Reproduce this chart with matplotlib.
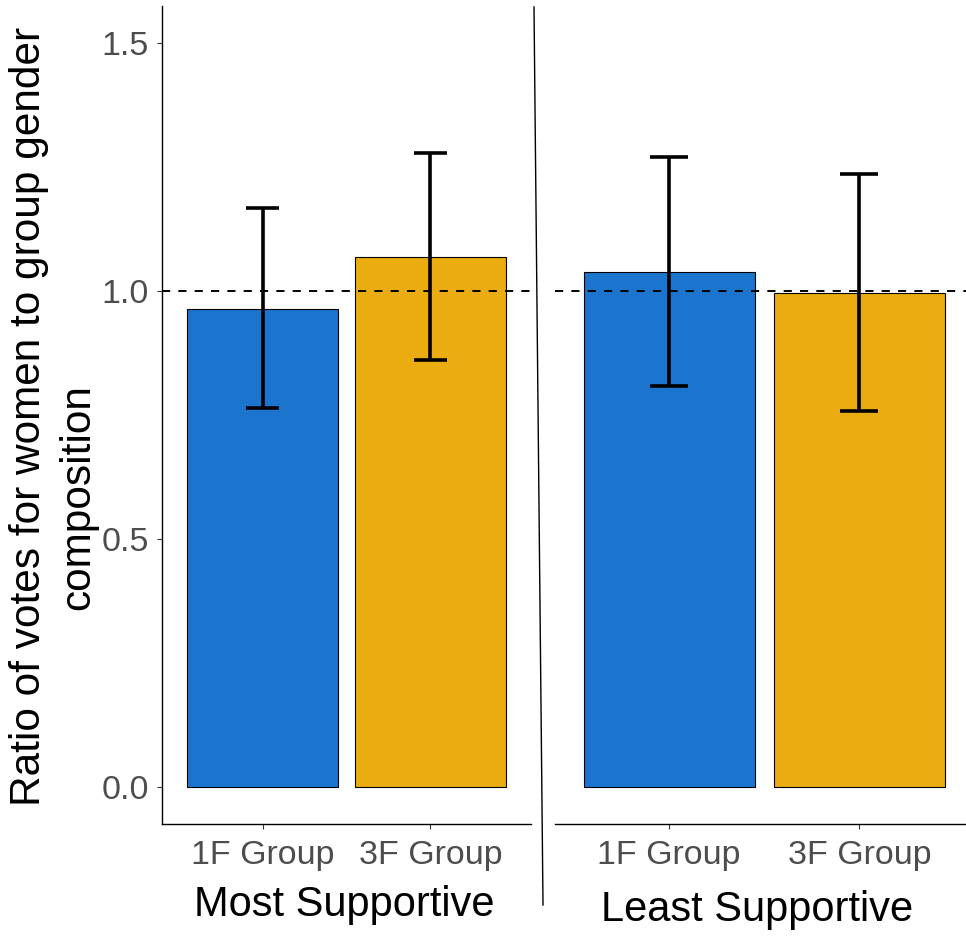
import numpy as np
import matplotlib
matplotlib.use('Agg')
import matplotlib.pyplot as plt
from matplotlib.lines import Line2D

plt.rcParams['font.family'] = ['Liberation Sans', 'DejaVu Sans']

# data
conditions = ['1F Group', '3F Group']
panels = ['Most Supportive', 'Least Supportive']
most_ratio = [0.964, 1.069]
most_lo = [0.764, 0.861]
most_hi = [1.168, 1.279]
least_ratio = [1.039, 0.996]
least_lo = [0.809, 0.758]
least_hi = [1.271, 1.236]
bar_colors = ['#1B75CF', '#EBAC11']
yticks = [0.0, 0.5, 1.0, 1.5]

W, H = 966, 936
fig = plt.figure(figsize=(W / 100, H / 100), dpi=100)

ax1 = fig.add_axes([162 / W, 112 / H, (531 - 162) / W, 818 / H])
ax2 = fig.add_axes([555 / W, 112 / H, (973.5 - 555) / W, 818 / H])

x = np.arange(1, len(conditions) + 1)
series = [(ax1, most_ratio, most_lo, most_hi), (ax2, least_ratio, least_lo, least_hi)]
for ax, vals, lo, hi in series:
    ax.bar(x, vals, width=0.9, color=bar_colors, edgecolor='black', linewidth=0.8, zorder=1)
    ax.axhline(1.0, color='black', lw=1.4, linestyle=(0, (4.2, 4.2)), zorder=2)
    ax.vlines(x, lo, hi, color='black', lw=2.6, zorder=3)
    ax.hlines(lo, x - 0.1, x + 0.1, color='black', lw=2.6, zorder=3)
    ax.hlines(hi, x - 0.1, x + 0.1, color='black', lw=2.6, zorder=3)
    ax.set_xlim(0.4, 2.6)
    ax.set_ylim(-0.075, 1.575)
    ax.set_xticks(x)
    ax.set_xticklabels(conditions)
    ax.tick_params(axis='both', length=3.6, width=0.8, color='#333333',
                   labelcolor='#4D4D4D', labelsize=24.5, pad=6)
    ax.tick_params(axis='x', pad=8)
    for s in ['top', 'right']:
        ax.spines[s].set_visible(False)
    ax.spines['bottom'].set_linewidth(1.0)
    ax.spines['left'].set_linewidth(1.0)
    ax.patch.set_alpha(0)

ax1.set_yticks(yticks)
ax1.set_yticklabels(['%.1f' % v for v in yticks])
ax2.spines['left'].set_visible(False)
ax2.set_yticks([])

fig.text(344 / W, 1 - 905 / H, panels[0], ha='center', va='center', fontsize=30)
fig.text(757 / W, 1 - 910 / H, panels[1], ha='center', va='center', fontsize=30)

fig.text(29 / W, 1 - 416 / H, 'Ratio of votes for women to group gender',
         rotation=90, ha='center', va='center', fontsize=30.5)
fig.text(78 / W, 1 - 497 / H, 'composition',
         rotation=90, ha='center', va='center', fontsize=30.5)

fig.add_artist(Line2D([534 / W, 543 / W], [1 - 7 / H, 1 - 905 / H],
                      transform=fig.transFigure, color='black', lw=1.0))

fig.savefig('out.png', dpi=100, facecolor='white')
